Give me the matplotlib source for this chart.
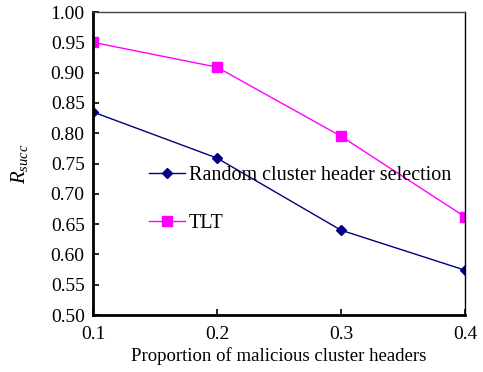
import matplotlib.pyplot as plt

plt.rcParams['font.family'] = ['Liberation Serif', 'DejaVu Serif']
plt.rcParams['mathtext.fontset'] = 'custom'
plt.rcParams['mathtext.rm'] = 'Liberation Serif'
plt.rcParams['mathtext.it'] = 'Liberation Serif:italic'

x_vals = [0.1, 0.2, 0.3, 0.4]
random_sel = [0.835, 0.759, 0.640, 0.574]
tlt = [0.950, 0.909, 0.795, 0.662]
y_ticks = [0.50, 0.55, 0.60, 0.65, 0.70, 0.75, 0.80, 0.85, 0.90, 0.95, 1.00]

fig = plt.figure(figsize=(4.83, 3.72), dpi=100)
ax = fig.add_axes([0.1925, 0.1532, 0.7702, 0.8145])

ax.plot(x_vals, random_sel, color='#000080', marker='D', markersize=5,
        linewidth=1.0, label='Random cluster header selection')
ax.plot(x_vals, tlt, color='#ff00ff', marker='s', markersize=6.5,
        linewidth=1.0, label='TLT')

ax.set_xlim(0.1, 0.4)
ax.set_ylim(0.5, 1.0)
ax.set_xticks(x_vals)
ax.set_xticklabels(['0.1', '0.2', '0.3', '0.4'])
ax.set_yticks(y_ticks)
ax.set_yticklabels(['%.2f' % v for v in y_ticks])
ax.tick_params(direction='in', labelsize=14, length=4, width=1.2)
ax.tick_params(axis='x', pad=8)
ax.tick_params(axis='y', pad=6)

for side in ['left', 'bottom']:
    ax.spines[side].set_linewidth(2)
for side in ['top', 'right']:
    ax.spines[side].set_linewidth(1)
ax.spines['top'].set_color('#444444')

ax.set_xlabel('Proportion of malicious cluster headers', fontsize=13.5, labelpad=3)
ax.set_ylabel(r'$R_{succ}$', fontsize=15)
ax.yaxis.set_label_coords(-0.17, 0.5)

ax.legend(loc='upper left', bbox_to_anchor=(0.13, 0.52), frameon=False,
          fontsize=14.5, handlelength=1.75, handletextpad=0.2, labelspacing=1.45,
          borderaxespad=0)

fig.savefig('out.png', dpi=100)
